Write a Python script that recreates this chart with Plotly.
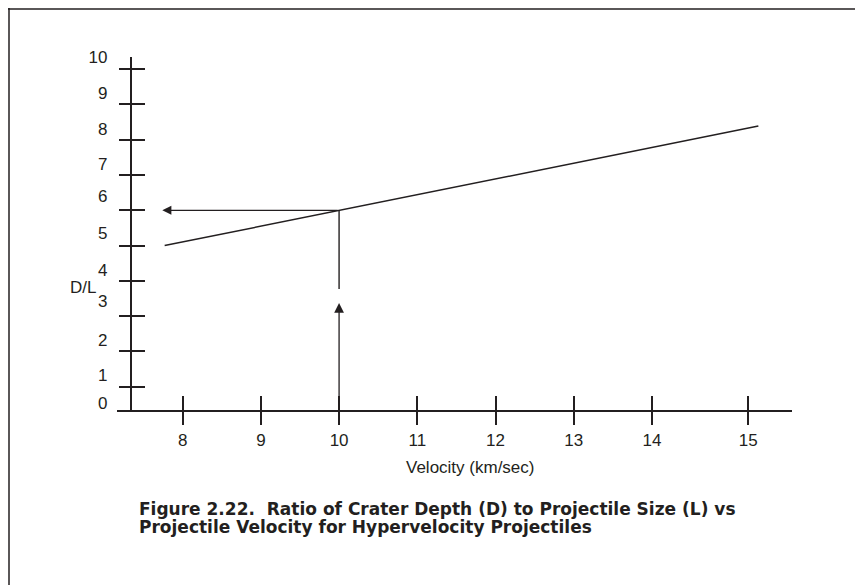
import plotly.graph_objects as go

# ---- data ----
velocity = [7.77, 10.0, 15.36]          # km/sec
depth_ratio = [5.0, 6.0, 8.39]          # D/L

x_tick_vals = [8, 9, 10, 11, 12, 13, 14, 15.23]
x_tick_text = ["8", "9", "10", "11", "12", "13", "14", "15"]

y_tick_vals = [1, 2, 3, 4, 5, 6, 7, 8, 9, 10]
y_label_vals = [10.33, 9.32, 8.29, 7.32, 6.40, 5.35, 4.31, 3.43, 2.32, 1.33, 0.54]
y_label_text = ["10", "9", "8", "7", "6", "5", "4", "3", "2", "1", "0"]

read_velocity = 10.0
read_ratio = 6.0
h_arrow_tip = 7.74
v_line_bottom = 3.77
v_arrow_tip = 3.37

x_range = [7.161, 15.79]
y_range = [0.34, 10.345]
y_axis_at = 7.345

caption_1 = "Figure 2.22.  Ratio of Crater Depth (D) to Projectile Size (L) vs"
caption_2 = "Projectile Velocity for Hypervelocity Projectiles"

INK = "#231f20"
FONT = "Liberation Sans, Arial, sans-serif"

# page has an 8px body margin; figure is sized to fill the rest of the window
PAGE_OFF = 8
W, H = 863 - PAGE_OFF, 585 - PAGE_OFF
PLOT_L, PLOT_R, PLOT_T, PLOT_B = 117, 792, 57, 410      # page pixels
ML, MT = PLOT_L - PAGE_OFF, PLOT_T - PAGE_OFF
MR, MB = W - (PLOT_R - PAGE_OFF), H - (PLOT_B - PAGE_OFF)
PW, PH = PLOT_R - PLOT_L, PLOT_B - PLOT_T


def px(xp):
    return (xp - PLOT_L) / PW


def py(yp):
    return (PLOT_B - yp) / PH


y_pos = (y_axis_at - x_range[0]) / (x_range[1] - x_range[0])

fig = go.Figure()
fig.add_trace(go.Scatter(x=velocity, y=depth_ratio, mode="lines",
                         line=dict(color=INK, width=1.5), showlegend=False,
                         hoverinfo="skip"))
fig.add_trace(go.Scatter(x=[read_velocity, read_velocity], y=[read_ratio, v_line_bottom],
                         mode="lines", line=dict(color=INK, width=1.4),
                         showlegend=False, hoverinfo="skip"))
# helper empty traces so the overlay axes render
fig.add_trace(go.Scatter(x=[], y=[], xaxis="x2", yaxis="y", showlegend=False))
fig.add_trace(go.Scatter(x=[], y=[], xaxis="x", yaxis="y2", showlegend=False))
fig.add_trace(go.Scatter(x=[], y=[], xaxis="x", yaxis="y3", showlegend=False))

tickfont = dict(family=FONT, size=17, color=INK)

fig.update_layout(
    width=W, height=H,
    margin=dict(l=ML, r=MR, t=MT, b=MB),
    paper_bgcolor="white", plot_bgcolor="white",
    showlegend=False,
    xaxis=dict(range=x_range, tickvals=x_tick_vals, ticktext=x_tick_text,
               ticks="outside", ticklen=13, tickwidth=1.5, tickcolor=INK,
               showline=True, linecolor=INK, linewidth=1.5,
               showgrid=False, zeroline=False, tickfont=tickfont,
               ticklabelstandoff=1, anchor="y"),
    xaxis2=dict(range=x_range, tickvals=x_tick_vals, overlaying="x", anchor="y",
                ticks="inside", ticklen=14, tickwidth=1.5, tickcolor=INK,
                showticklabels=False, showline=False, showgrid=False, zeroline=False),
    yaxis=dict(range=y_range, tickvals=y_tick_vals, anchor="free", position=y_pos,
               ticks="outside", ticklen=12, tickwidth=1.5, tickcolor=INK,
               showticklabels=False, showline=True, linecolor=INK, linewidth=1.5,
               showgrid=False, zeroline=False),
    yaxis2=dict(range=y_range, tickvals=y_tick_vals, overlaying="y", anchor="free",
                position=y_pos, ticks="inside", ticklen=13, tickwidth=1.5, tickcolor=INK,
                showticklabels=False, showline=False, showgrid=False, zeroline=False),
    yaxis3=dict(range=y_range, tickvals=y_label_vals, ticktext=y_label_text,
                overlaying="y", anchor="free", position=y_pos, ticks="",
                showline=False, showgrid=False, zeroline=False,
                tickfont=tickfont, ticklabelstandoff=24),
)

annotations = [
    dict(x=h_arrow_tip, y=read_ratio, ax=read_velocity, ay=read_ratio,
         xref="x", yref="y", axref="x", ayref="y", text="", showarrow=True,
         arrowhead=2, arrowsize=1.4, arrowwidth=1.3, arrowcolor=INK),
    dict(x=read_velocity, y=v_arrow_tip, ax=read_velocity, ay=y_range[0],
         xref="x", yref="y", axref="x", ayref="y", text="", showarrow=True,
         arrowhead=2, arrowsize=1.5, arrowwidth=1.3, arrowcolor=INK),
    dict(x=px(470), y=py(467), xref="paper", yref="paper", text="Velocity (km/sec)",
         showarrow=False, xanchor="center", yanchor="middle",
         font=dict(family=FONT, size=17, color=INK)),
    dict(x=px(83), y=py(287), xref="paper", yref="paper", text="D/L",
         showarrow=False, xanchor="center", yanchor="middle",
         font=dict(family=FONT, size=17, color=INK)),
    dict(x=px(137), y=py(509), xref="paper", yref="paper", text=caption_1,
         showarrow=False, xanchor="left", yanchor="middle",
         font=dict(family="DejaVu Sans, sans-serif", size=17, color=INK, weight="bold")),
    dict(x=px(137), y=py(527), xref="paper", yref="paper", text=caption_2,
         showarrow=False, xanchor="left", yanchor="middle",
         font=dict(family="DejaVu Sans, sans-serif", size=17, color=INK, weight="bold")),
]
fig.update_layout(annotations=annotations)

# frame (top and left edges), as close to the page corner as the figure allows
fig.update_layout(shapes=[
    dict(type="line", xref="paper", yref="paper", x0=px(PAGE_OFF), x1=px(863), y0=py(PAGE_OFF + 1),
         y1=py(PAGE_OFF + 1), line=dict(color=INK, width=1.5)),
    dict(type="line", xref="paper", yref="paper", x0=px(PAGE_OFF + 1), x1=px(PAGE_OFF + 1),
         y0=py(PAGE_OFF), y1=py(585), line=dict(color=INK, width=1.5)),
])

fig.write_html("out.html")
